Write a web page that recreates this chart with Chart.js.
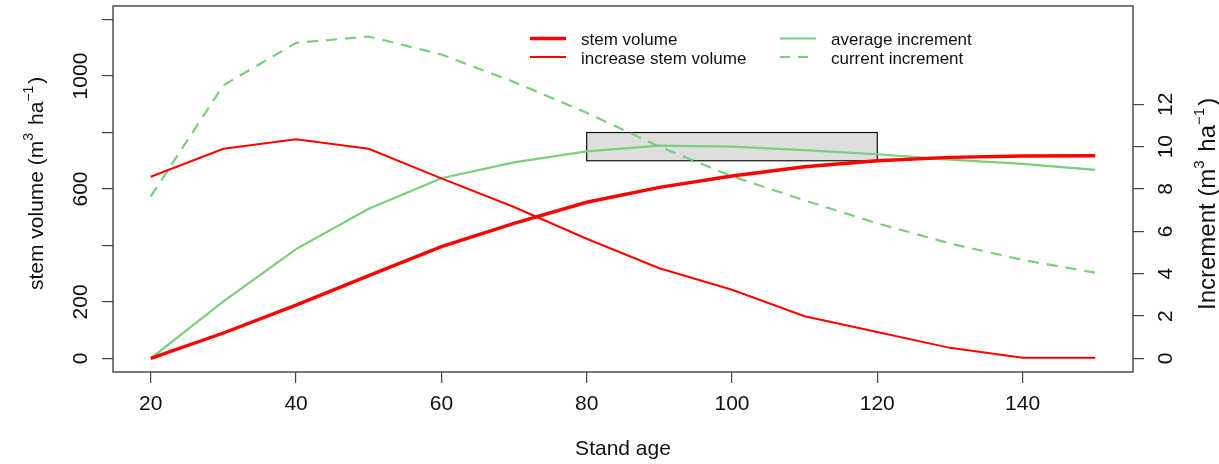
<!DOCTYPE html>
<html>
<head>
<meta charset="utf-8">
<title>Stem volume and increment by stand age</title>
<script src="https://cdn.jsdelivr.net/npm/chart.js@4.4.1/dist/chart.umd.min.js"></script>
<style>
  html, body { margin: 0; padding: 0; background: #fff; }
  canvas { display: block; }
</style>
</head>
<body>
<canvas id="standChart" width="1219" height="464"></canvas>
<script>
"use strict";

// Stand age (years), one value every 10 years
const ages = [20, 30, 40, 50, 60, 70, 80, 90, 100, 110, 120, 130, 140, 150];

// Left axis: m3 ha-1
const stemVolume = [0, 90, 189, 293, 396, 478, 553, 606, 646, 679, 700, 712, 717, 718];

// Right axis: m3 ha-1 (increments)
const increaseStemVolume = [8.58, 9.9, 10.35, 9.9, 8.5, 7.15, 5.65, 4.26, 3.24, 1.99, 1.25, 0.5, 0.03, 0.03];
const averageIncrement = [0, 2.69, 5.16, 7.07, 8.51, 9.26, 9.78, 10.05, 10.0, 9.84, 9.64, 9.39, 9.19, 8.9];
const currentIncrement = [7.65, 12.9, 14.9, 15.2, 14.35, 13.05, 11.6, 10.0, 8.6, 7.46, 6.38, 5.43, 4.65, 4.05];

// Tick values and labels
const ageTicks = [20, 40, 60, 80, 100, 120, 140];
const volumeTicks = [0, 200, 400, 600, 800, 1000, 1200];
const volumeTickLabels = ["0", "200", "", "600", "", "1000", ""];
const incrementTicks = [0, 2, 4, 6, 8, 10, 12];
const incrementTickLabels = ["0", "2", "4", "6", "8", "10", "12"];

// Shaded box: stand age from/to, stem volume from/to
const boxAges = [80, 120];
const boxVolumes = [700, 800];

const FONT = "'Liberation Sans', Arial, sans-serif";
const AXIS_COLOR = "#444";
const TEXT_COLOR = "#111";
const RED = "#ff0000";
const GREEN = "#7ccd7c";

Chart.defaults.font.family = FONT;
Chart.defaults.color = TEXT_COLOR;

function toPoints(values) {
  return ages.map((a, i) => ({ x: a, y: values[i] }));
}

function fixedTicks(values) {
  return function (scale) {
    scale.ticks = values.map((v) => ({ value: v }));
  };
}

const axisGrid = {
  display: true,
  drawOnChartArea: false,
  drawTicks: true,
  tickLength: 11,
  color: AXIS_COLOR,
  lineWidth: 1.2,
};

/**
 * Grey rectangle behind the lines
 */
const shadedBox = {
  id: "shadedBox",
  beforeDatasetsDraw(chart) {
    const { ctx, scales } = chart;
    const left = scales.x.getPixelForValue(boxAges[0]);
    const right = scales.x.getPixelForValue(boxAges[1]);
    const top = scales.y.getPixelForValue(boxVolumes[1]);
    const bottom = scales.y.getPixelForValue(boxVolumes[0]);
    ctx.save();
    ctx.fillStyle = "#dedede";
    ctx.strokeStyle = "#111";
    ctx.lineWidth = 1.2;
    ctx.fillRect(left, top, right - left, bottom - top);
    ctx.strokeRect(left, top, right - left, bottom - top);
    ctx.restore();
  },
};

/**
 * Box round the plot region
 */
const plotFrame = {
  id: "plotFrame",
  afterDatasetsDraw(chart) {
    const { ctx, chartArea: a } = chart;
    ctx.save();
    ctx.strokeStyle = AXIS_COLOR;
    ctx.lineWidth = 1.4;
    ctx.strokeRect(a.left, a.top, a.right - a.left, a.bottom - a.top);
    ctx.restore();
  },
};

function drawVerticalTickLabels(ctx, scale, values, labels, centerX) {
  scale.ticks.forEach((t) => {
    const label = labels[values.indexOf(t.value)];
    if (!label) return;
    ctx.save();
    ctx.translate(centerX, scale.getPixelForValue(t.value));
    ctx.rotate(-Math.PI / 2);
    ctx.fillText(label, 0, 0);
    ctx.restore();
  });
}

function drawVerticalTitle(ctx, parts, baseX, startY, size, supSize, raise) {
  ctx.save();
  ctx.translate(baseX, startY);
  ctx.rotate(-Math.PI / 2);
  ctx.textAlign = "left";
  ctx.textBaseline = "alphabetic";
  let pos = 0;
  parts.forEach((p) => {
    ctx.font = (p.sup ? supSize : size) + "px " + FONT;
    ctx.fillText(p.text, pos, p.sup ? -raise : 0);
    pos += ctx.measureText(p.text).width + (p.sup ? 2 : 0);
  });
  ctx.restore();
}

/**
 * Rotated y tick labels and the two y axis titles
 */
const yAxisText = {
  id: "yAxisText",
  afterDraw(chart) {
    const { ctx, scales } = chart;
    ctx.save();
    ctx.fillStyle = TEXT_COLOR;
    ctx.font = "21px " + FONT;
    ctx.textAlign = "center";
    ctx.textBaseline = "middle";
    drawVerticalTickLabels(ctx, scales.y, volumeTicks, volumeTickLabels, 81);
    drawVerticalTickLabels(ctx, scales.y2, incrementTicks, incrementTickLabels, 1166);

    drawVerticalTitle(ctx, [
      { text: "stem volume (m" },
      { text: "3", sup: true },
      { text: " ha" },
      { text: "\u22121", sup: true },
      { text: ")" },
    ], 43, 290, 21, 14, 10);

    drawVerticalTitle(ctx, [
      { text: "Increment (m" },
      { text: "3", sup: true },
      { text: " ha" },
      { text: "\u22121", sup: true },
      { text: ")" },
    ], 1215, 310, 24, 15, 11);
    ctx.restore();
  },
};

/**
 * Two-column legend without border
 */
const twoColumnLegend = {
  id: "twoColumnLegend",
  afterDraw(chart) {
    const { ctx } = chart;
    const colX = [530, 780];
    const rowY = [38.5, 57];
    ctx.save();
    ctx.font = "17px " + FONT;
    ctx.textBaseline = "middle";
    ctx.textAlign = "left";
    chart.data.datasets.forEach((ds, i) => {
      const x = colX[Math.floor(i / 2)];
      const y = rowY[i % 2];
      ctx.beginPath();
      ctx.strokeStyle = ds.borderColor;
      ctx.lineWidth = ds.borderWidth;
      ctx.setLineDash(ds.borderDash ? [10, 8] : []);
      ctx.moveTo(x, y);
      ctx.lineTo(x + 36, y);
      ctx.stroke();
      ctx.setLineDash([]);
      ctx.fillStyle = TEXT_COLOR;
      ctx.fillText(ds.label, x + 51, y + 2);
    });
    ctx.restore();
  },
};

const ctx = document.getElementById("standChart").getContext("2d");

new Chart(ctx, {
  type: "line",
  data: {
    datasets: [
      {
        label: "stem volume",
        data: toPoints(stemVolume),
        yAxisID: "y",
        borderColor: RED,
        borderWidth: 3.4,
      },
      {
        label: "increase stem volume",
        data: toPoints(increaseStemVolume),
        yAxisID: "y2",
        borderColor: RED,
        borderWidth: 2,
      },
      {
        label: "average increment",
        data: toPoints(averageIncrement),
        yAxisID: "y2",
        borderColor: GREEN,
        borderWidth: 2.2,
      },
      {
        label: "current increment",
        data: toPoints(currentIncrement),
        yAxisID: "y2",
        borderColor: GREEN,
        borderWidth: 2.2,
        borderDash: [11, 8],
      },
    ],
  },
  options: {
    responsive: false,
    animation: false,
    devicePixelRatio: 1,
    layout: { padding: { top: 6, left: 0, right: 0, bottom: 0 } },
    elements: {
      point: { radius: 0, hoverRadius: 0 },
      line: { tension: 0, fill: false, borderCapStyle: "butt" },
    },
    plugins: {
      legend: { display: false },
      tooltip: { enabled: false },
    },
    scales: {
      x: {
        type: "linear",
        min: 14.8,
        max: 155.2,
        afterBuildTicks: fixedTicks(ageTicks),
        afterFit: (scale) => { scale.height = 92; },
        grid: axisGrid,
        border: { display: false },
        ticks: {
          font: { size: 21 },
          color: TEXT_COLOR,
          padding: 9,
          maxRotation: 0,
          autoSkip: false,
        },
        title: {
          display: true,
          text: "Stand age",
          font: { size: 21 },
          color: TEXT_COLOR,
          padding: { top: 0, bottom: 2 },
        },
      },
      y: {
        type: "linear",
        position: "left",
        min: -48,
        max: 1248,
        afterBuildTicks: fixedTicks(volumeTicks),
        afterFit: (scale) => { scale.width = 113; },
        grid: axisGrid,
        border: { display: false },
        ticks: { display: false },
      },
      y2: {
        type: "linear",
        position: "right",
        min: -0.64,
        max: 16.64,
        afterBuildTicks: fixedTicks(incrementTicks),
        afterFit: (scale) => { scale.width = 86; },
        grid: axisGrid,
        border: { display: false },
        ticks: { display: false },
      },
    },
  },
  plugins: [shadedBox, plotFrame, yAxisText, twoColumnLegend],
});
</script>
</body>
</html>
